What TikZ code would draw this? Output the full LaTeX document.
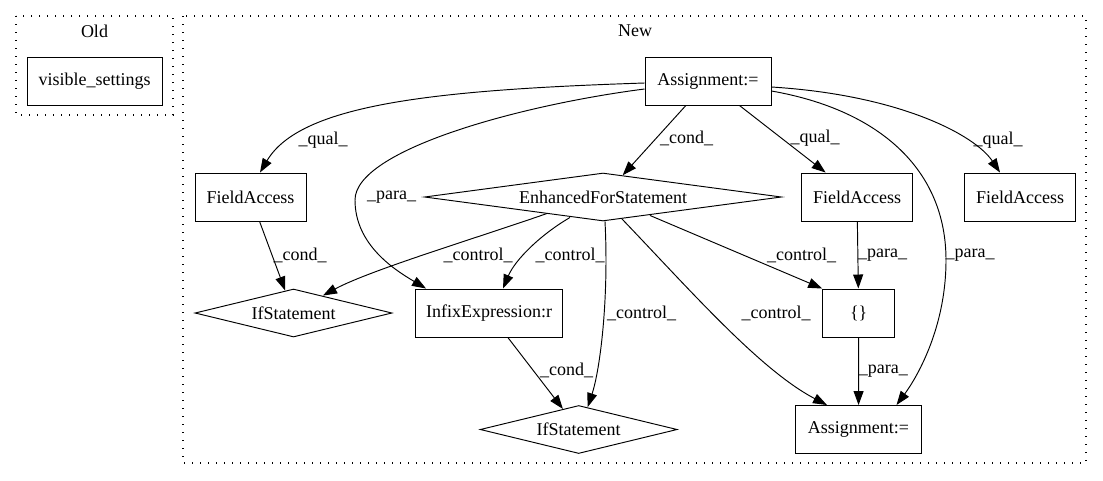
\documentclass[tikz,border=0pt]{standalone}
\usepackage{fontspec}
\setmainfont{Liberation Serif}
\usetikzlibrary{shapes.geometric,arrows.meta,calc}
\begin{document}
\begin{tikzpicture}[x=1pt,y=-1pt,
  every node/.style={font=\fontsize{18}{20}\selectfont},
  box/.style={draw,line width=0.95pt,rectangle,minimum height=48pt,inner sep=0pt},
  dia/.style={draw,line width=0.95pt,diamond,aspect=7,minimum height=48pt,inner sep=0pt},
  lbl/.style={inner sep=0pt},
  cluster/.style={line width=1.3pt,dash pattern=on 1.3pt off 6.7pt},
  edge/.style={line width=0.95pt,-{Triangle[length=14pt,width=10pt]}},
]
\useasboundingbox (0,0) rectangle (1103,480);
% clusters
\draw[cluster] (16,16) rectangle (173,115);
\node[lbl] (oldl) at (94.5,31) {Old};
\node[box,minimum width=135pt] (vs) at (94.5,81) {visible\_settings};
\draw[cluster] (183,16) rectangle (1086,463);
\node[lbl] (newl) at (635,31) {New};
% nodes
\node[box,minimum width=126pt] (at) at (708,81) {Assignment:=};
\node[dia,minimum width=357pt] (efs) at (603,197) {EnhancedForStatement};
\node[box,minimum width=111pt] (fa1) at (250.5,197) {FieldAccess};
\node[box,minimum width=111pt] (fa2) at (857,197) {FieldAccess};
\node[box,minimum width=111pt] (fa3) at (1020,197) {FieldAccess};
\node[dia,minimum width=197pt] (if1) at (293.5,313) {IfStatement};
\node[box,minimum width=147pt] (inf) at (489,313) {InfixExpression:r};
\node[box,minimum width=72pt] (br) at (858.7,313) {\{\}};
\node[dia,minimum width=197pt] (if2) at (578.7,429.5) {IfStatement};
\node[box,minimum width=126pt] (ab) at (858.5,429.5) {Assignment:=};
% edges
\draw[edge] ($(at.west)+(0,2)$) .. controls (430,90) and (300,105) .. ($(fa1.north)+(9.5,0)$);
\draw[edge] ($(at.west)+(0,8)$) .. controls (520,105) and (355,150) .. (355,200) .. controls (355,245) and (395,270) .. ($(inf.north west)+(11,0)$);
\draw[edge] (at) -- (efs);
\draw[edge] (at) -- (fa2);
\draw[edge] ($(at.east)+(0,6)$) .. controls (900,95) and (975,135) .. ($(fa3.north)+(-20,0)$);
\draw[edge] ($(at.east)+(0,10)$) .. controls (880,110) and (946,170) .. (946,260) .. controls (946,330) and (915,380) .. ($(ab.north)+(38,0)$);
\draw[edge] (fa1) -- (if1);
\draw[edge] ($(efs.south)+(-56,-8)$) .. controls (480,237) and (370,270) .. ($(if1.north)+(29.5,7)$);
\draw[edge] ($(efs.south)+(-33,-4)$) .. controls (540,235) and (515,260) .. ($(inf.north)+(14,0)$);
\draw[edge] ($(efs.south)+(2,0)$) .. controls (609,300) and (600,370) .. ($(if2.north)+(9,2)$);
\draw[edge] ($(efs.south)+(47,-6)$) -- (br.north west);
\draw[edge] ($(efs.south)+(19,-2.5)$) .. controls (690,290) and (760,370) .. ($(ab.north)+(-31.5,0)$);
\draw[edge] (fa2) -- (br);
\draw[edge] (br) -- (ab);
\draw[edge] (inf) -- (if2);
% labels
\node[lbl] (l1) at (323,140) {\_qual\_};
\node[lbl] (l2) at (391.7,197) {\_para\_};
\node[lbl] (l3) at (686.7,138) {\_cond\_};
\node[lbl] (l4) at (815,138) {\_qual\_};
\node[lbl] (l5) at (998,140) {\_qual\_};
\node[lbl] (l6) at (970,255) {\_para\_};
\node[lbl] (l7) at (300,255) {\_cond\_};
\node[lbl] (l8) at (478,255) {\_control\_};
\node[lbl] (l9) at (570,255) {\_control\_};
\node[lbl] (l10) at (641.7,313) {\_control\_};
\node[lbl] (l11) at (566.7,370) {\_cond\_};
\node[lbl] (l12) at (801.7,255) {\_control\_};
\node[lbl] (l13) at (882.7,255) {\_para\_};
\node[lbl] (l14) at (776,313) {\_control\_};
\node[lbl] (l15) at (883.3,370.7) {\_para\_};
\end{tikzpicture}
\end{document}
